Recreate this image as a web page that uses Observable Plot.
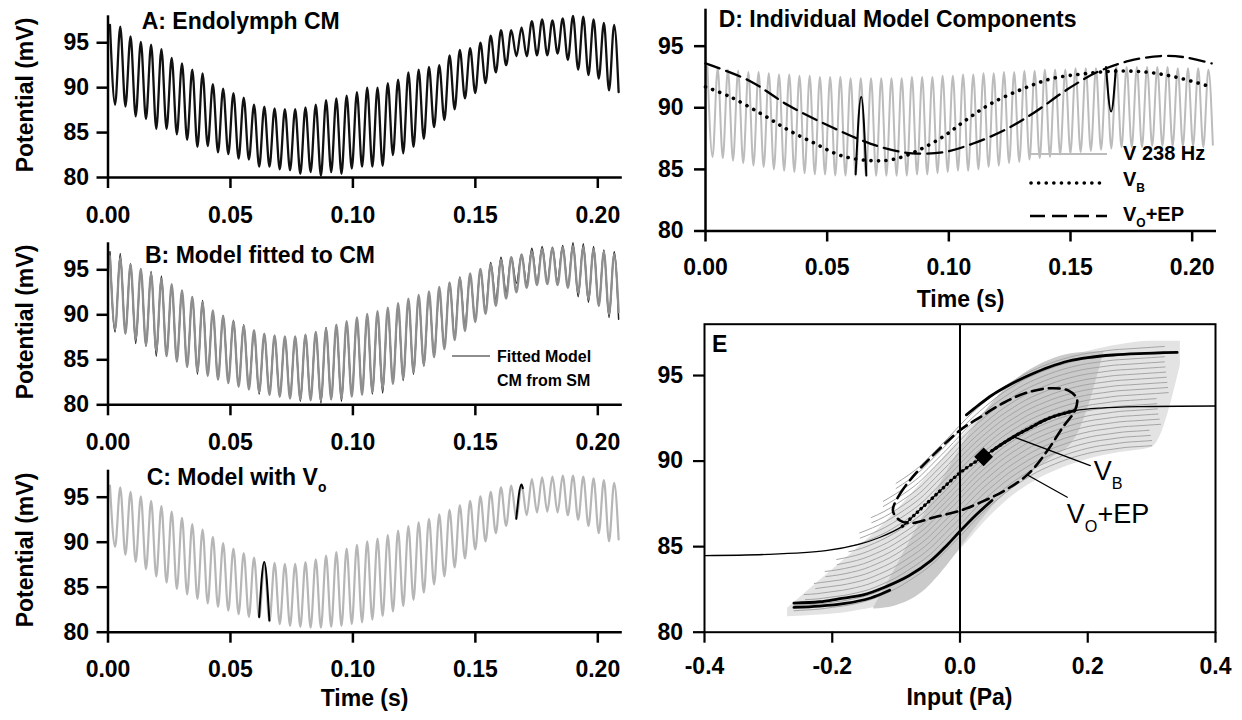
<!DOCTYPE html>
<html><head><meta charset="utf-8">
<script src="https://cdn.jsdelivr.net/npm/d3@7"></script>
<script src="https://cdn.jsdelivr.net/npm/@observablehq/plot@0.6"></script>
<style>
body{margin:0;background:#fff;}
#fig{position:relative;width:1242px;height:720px;overflow:hidden;background:#fff;}
#fig svg{position:absolute;}
</style></head><body><div id="fig"></div><script>
// ---------- ticks ----------
const timeTicks = [0, 0.05, 0.10, 0.15, 0.20];
const potentialTicks = [80, 85, 90, 95];
const inputTicks = [-0.4, -0.2, 0, 0.2, 0.4];
const toneHz = 238;
const firstPeakTime = 0.0008;

// ---------- A: Endolymph CM (peak / trough per cycle) ----------
const cmPeaks = [97.0,96.8,95.7,95.1,94.8,94.3,93.3,92.7,92.0,91.6,90.4,89.9,89.4,88.9,88.1,87.9,87.7,87.6,87.6,87.8,88.1,88.6,88.8,89.1,89.5,90.0,90.0,90.5,90.9,91.7,92.0,92.3,92.5,93.6,94.2,94.4,95.0,95.8,96.4,96.4,96.7,97.4,97.6,97.5,97.7,98.0,97.9,97.6,97.2,97.0];
const cmTroughs = [88.1,87.9,86.8,86.5,85.4,85.4,84.8,84.2,83.4,83.5,82.8,82.6,82.1,82.0,81.2,81.2,80.9,80.8,80.4,80.6,80.2,80.6,80.4,81.0,81.2,81.2,81.3,82.5,82.7,83.4,84.3,85.6,86.4,87.6,88.8,89.4,90.5,91.7,92.5,93.5,93.5,93.6,93.6,93.8,93.1,92.0,91.4,91.0,89.7];
const cmEnd = [0.2085, 89.5];

// ---------- B: fitted model ----------
const fitPeaks = [96.5,96.3,95.6,95.1,94.6,94.0,93.4,92.7,92.0,91.4,90.5,89.9,89.3,88.8,88.3,87.9,87.7,87.6,87.6,87.8,88.1,88.5,88.9,89.3,89.7,90.1,90.4,90.8,91.3,91.8,92.2,92.6,93.1,93.6,94.1,94.6,95.1,95.6,96.1,96.4,96.7,97.0,97.3,97.4,97.5,97.6,97.5,97.3,97.0,96.7];
const fitTroughs = [88.4,87.9,87.3,86.6,86.0,85.4,84.8,84.2,83.7,83.2,82.8,82.4,82.0,81.7,81.4,81.1,80.9,80.7,80.6,80.5,80.5,80.6,80.7,80.9,81.1,81.4,81.8,82.3,82.9,83.6,84.4,85.3,86.2,87.2,88.2,89.2,90.1,91.0,91.8,92.5,93.0,93.3,93.4,93.3,93.0,92.5,91.8,91.0,90.1];
const fitEnd = [0.2085, 90.3];

// ---------- C: model with Vo ----------
const voPeaks = [96.3,96.1,95.6,95.1,94.6,94.0,93.4,92.7,92.0,91.4,90.6,89.9,89.3,88.8,88.3,87.8,87.7,87.6,87.6,87.8,88.1,88.5,88.9,89.3,89.7,90.1,90.4,90.8,91.3,91.8,92.2,92.6,93.1,93.6,94.1,94.6,95.1,95.6,96.1,96.3,96.4,97.0,97.2,97.3,97.4,97.4,97.3,97.1,96.9,96.6];
const voTroughs = [89.5,88.6,87.8,87.0,86.2,85.5,84.8,84.2,83.7,83.2,82.8,82.4,82.0,81.7,81.6,81.2,80.9,80.7,80.6,80.5,80.5,80.6,80.7,80.9,81.1,81.4,81.8,82.3,82.9,83.6,84.4,85.3,86.2,87.2,88.2,89.2,90.1,91.0,91.8,92.6,93.0,93.3,93.4,93.3,93.0,92.5,91.8,91.0,90.1];
const voEnd = [0.2085, 90.3];
const cSpike1T = [0.0617, 0.0638, 0.0659], cSpike1V = [81.7, 87.8, 81.3];
const cSpike2T = [0.1667, 0.1688, 0.1694], cSpike2V = [92.6, 96.4, 96.0];

// ---------- D: individual components ----------
const tonePeaks = [93.3,93.2,93.1,93.0,92.9,92.9,92.8,92.7,92.7,92.6,92.6,92.5,92.5,92.5,92.4,92.4,92.4,92.4,92.4,92.4,92.5,92.5,92.5,92.6,92.6,92.7,92.7,92.8,92.8,92.9,92.9,93.0,93.0,93.1,93.1,93.1,93.2,93.2,93.2,93.2,93.3,93.3,93.3,93.3,93.3,93.3,93.2,93.2,93.2,93.1];
const toneTroughs = [86.0,85.9,85.7,85.5,85.3,85.2,85.0,84.9,84.8,84.7,84.6,84.6,84.5,84.5,84.5,84.5,84.5,84.5,84.5,84.5,84.6,84.6,84.7,84.8,84.9,84.9,85.0,85.2,85.3,85.5,85.6,85.8,85.9,86.0,86.2,86.3,86.4,86.5,86.6,86.7,86.8,86.8,86.8,86.9,86.9,86.9,86.9,86.9,86.8];
const toneEnd = [0.2085, 87.0];
const vbTime = [0,0.01,0.023,0.034,0.045,0.056,0.069,0.078,0.088,0.098,0.107,0.117,0.130,0.142,0.155,0.168,0.181,0.193,0.206];
const vbValue = [91.7,90.9,89.5,88.2,87.1,86.1,85.7,85.85,86.6,87.7,89.0,90.3,91.5,92.35,92.75,92.97,92.9,92.5,91.8];
const voepTime = [0,0.018,0.034,0.05,0.0643,0.074,0.085,0.098,0.110,0.123,0.135,0.148,0.161,0.174,0.187,0.197,0.208];
const voepValue = [93.6,92.2,90.2,88.6,87.35,86.7,86.3,86.4,87.1,88.2,89.6,91.4,92.9,93.8,94.2,94.1,93.6];
const dSpike1T = [0.0617, 0.0640, 0.0661], dSpike1V = [84.6, 90.9, 84.5];
const dSpike2T = [0.1646, 0.1667, 0.1686], dSpike2V = [93.3, 89.7, 93.1];

// ---------- E: input vs potential ----------
const thinP = [-0.4,-0.3,-0.21,-0.16,-0.125,-0.09,-0.07,-0.05,-0.03,-0.01,0.01,0.03,0.05,0.07,0.09,0.11,0.13,0.15,0.18,0.22,0.28,0.4];
const thinV = [84.48,84.55,84.77,85.12,85.55,86.2,86.9,87.6,88.3,89.0,89.6,90.1,90.6,91.1,91.55,91.95,92.35,92.65,92.95,93.1,93.18,93.22];
const vbInP = [-0.09,-0.07,-0.05,-0.03,-0.01,0.01,0.03,0.05,0.07,0.09,0.11,0.13,0.15,0.18];
const vbInV = [86.2,86.9,87.6,88.3,89.0,89.6,90.1,90.6,91.1,91.55,91.95,92.35,92.65,92.95];
const grayBaseP = [-0.26,-0.24,-0.22,-0.20,-0.18,-0.16,-0.14,-0.12,-0.10,-0.08,-0.06,-0.04,-0.02,0,0.02,0.04,0.06,0.08,0.10,0.12,0.14,0.16,0.18,0.20,0.22,0.24,0.26,0.28,0.30,0.32,0.34];
const grayBaseV = [81.35,81.4,81.45,81.55,81.65,81.8,82.0,82.3,82.65,83.1,83.6,84.2,84.95,85.7,86.5,87.25,87.9,88.5,89.0,89.45,89.8,90.1,90.35,90.55,90.7,90.8,90.9,90.95,91.0,91.05,91.1];
const grayOffset = [-0.1,0.2,0.5,0.8,1.1,1.4,1.7,2.0,2.3,2.6,2.9,3.2,3.5,3.8,4.1,4.4,4.7,5.0,5.3,5.6];
const grayShift = [0,0,-0.002,-0.004,-0.006,-0.008,-0.01,-0.011,-0.012,-0.013,-0.014,-0.015,-0.016,-0.017,-0.018,-0.019,-0.02,-0.02,-0.02,-0.02];
const grayStart = [-0.26,-0.26,-0.24,-0.24,-0.22,-0.22,-0.2,-0.2,-0.18,-0.18,-0.16,-0.16,-0.14,-0.14,-0.12,-0.12,-0.1,-0.1,-0.08,-0.08];
const grayEnd = [0.3,0.3,0.3,0.3,0.32,0.32,0.32,0.32,0.32,0.32,0.34,0.34,0.34,0.34,0.34,0.34,0.34,0.34,0.34,0.34];
// light gray region covered by the stack of loops
const haloP = [-0.27,-0.22,-0.17,-0.12,-0.08,-0.04,0,0.04,0.08,0.12,0.16,0.2,0.25,0.3,0.345];
const haloLow = [80.9,81.0,81.2,81.6,82.3,83.3,84.8,86.5,87.9,88.9,89.6,90.1,90.5,90.8,95.6];
const haloHigh = [81.4,83.0,84.6,86.3,87.9,89.6,91.3,92.9,94.2,95.2,95.9,96.4,96.8,97.0,97.0];
// darker diagonal where the loops are steep
const darkP = [-0.135,-0.1,-0.06,-0.02,0.02,0.06,0.1,0.14,0.18,0.225];
const darkLow = [81.35,81.55,82.3,83.9,85.9,87.7,89.0,90.1,91.3,96.3];
const darkHigh = [81.45,83.8,86.6,89.4,91.9,93.8,95.1,95.9,96.3,96.4];
const upperP = [0.01,0.03,0.05,0.07,0.09,0.11,0.14,0.17,0.2,0.24,0.28,0.34];
const upperV = [92.7,93.3,93.85,94.3,94.7,95.05,95.5,95.85,96.05,96.2,96.28,96.35];
const lowerP = [-0.26,-0.22,-0.19,-0.15,-0.12,-0.08,-0.045,-0.02,0,0.025,0.05];
const lowerV = [81.7,81.78,81.95,82.2,82.6,83.3,84.2,85.1,85.9,86.85,87.7];
const lowerBackP = [-0.26,-0.22,-0.18,-0.14,-0.11];
const lowerBackV = [81.45,81.52,81.68,82.0,82.45];
const epP = [-0.105,-0.094,-0.07,-0.04,0,0.033,0.07,0.107,0.143,0.17,0.183,0.18,0.161,0.137,0.107,0.07,0.033,0,-0.04,-0.076,-0.094];
const epV = [87.11,88.08,89.25,90.42,91.8,92.6,93.44,94.03,94.26,94.12,93.64,92.96,91.98,90.62,89.25,88.28,87.6,87.1,86.72,86.37,86.53];
const operatingPoint = [0.037, 90.25];
const vbLeader = [[0.085, 91.4], [0.204, 89.74]];
const epLeader = [[0.107, 89.16], [0.168, 87.89]];

// ---------- helpers ----------
const FONT = '"Liberation Sans", Arial, Helvetica, sans-serif';
const fig = document.getElementById("fig");
const pts = (xs, ys) => xs.map((x, i) => ({x, y: ys[i]}));
function osc(peaks, troughs, end) {
  const per = 1 / toneHz, out = [];
  peaks.forEach((v, k) => {
    out.push({x: firstPeakTime + k * per, y: v});
    if (k < troughs.length) out.push({x: firstPeakTime + (k + 0.5) * per, y: troughs[k]});
  });
  if (end) out.push({x: end[0], y: end[1]});
  return out;
}
function place(svg, left, top) { svg.style.left = left + "px"; svg.style.top = top + "px"; fig.appendChild(svg); return svg; }
const txtOpts = {fontSize: 23, fontWeight: "bold"};
function timeAxes(pad, ypad) {
  return [
    Plot.ruleY([80], {x1: 0, x2: 0.21, strokeWidth: 2.5}),
    Plot.ruleX([0], {y1: 80, y2: 98, strokeWidth: 2.5}),
    Plot.axisX({ticks: timeTicks, tickSize: 11, tickPadding: pad, tickFormat: d => d.toFixed(2), strokeWidth: 2.5, label: null, ...txtOpts}),
    Plot.axisY({ticks: potentialTicks, tickSize: 11, tickPadding: ypad, strokeWidth: 2.5, label: null, ...txtOpts})
  ];
}
const baseStyle = {fontFamily: FONT, background: "none", overflow: "visible", color: "#000"};

// ---------- Panel A ----------
const plotA = Plot.plot({
  width: 640, height: 230, marginLeft: 107.5, marginRight: 18.2, marginTop: 15.3, marginBottom: 53,
  x: {domain: [0, 0.21], label: null}, y: {domain: [80, 98], label: null}, style: baseStyle,
  marks: [
    Plot.line(osc(cmPeaks, cmTroughs, cmEnd), {x: "x", y: "y", stroke: "#111", strokeWidth: 2.3, curve: "monotone-x"}),
    ...timeAxes(18, 8)
  ]
});
place(plotA, 0, 0);

// ---------- Panel B ----------
const plotB = Plot.plot({
  width: 640, height: 230, marginLeft: 107.5, marginRight: 18.2, marginTop: 14.3, marginBottom: 53.7,
  x: {domain: [0, 0.21], label: null}, y: {domain: [80, 98], label: null}, style: baseStyle,
  marks: [
    Plot.line(osc(cmPeaks, cmTroughs, cmEnd), {x: "x", y: "y", stroke: "#222", strokeWidth: 1.5, curve: "monotone-x"}),
    Plot.line(osc(fitPeaks, fitTroughs, fitEnd), {x: "x", y: "y", stroke: "#8e8e8e", strokeWidth: 2.3, curve: "monotone-x"}),
    ...timeAxes(18, 8)
  ]
});
place(plotB, 0, 228);

// ---------- Panel C ----------
const plotC = Plot.plot({
  width: 640, height: 265, marginLeft: 107.5, marginRight: 18.2, marginTop: 14.7, marginBottom: 88.3,
  x: {domain: [0, 0.21], label: null}, y: {domain: [80, 98], label: null}, style: baseStyle,
  marks: [
    Plot.line(osc(voPeaks, voTroughs, voEnd), {x: "x", y: "y", stroke: "#b6b6b6", strokeWidth: 2.2, curve: "monotone-x"}),
    Plot.line(pts(cSpike1T, cSpike1V), {x: "x", y: "y", stroke: "#000", strokeWidth: 2, curve: "monotone-x"}),
    Plot.line(pts(cSpike2T, cSpike2V), {x: "x", y: "y", stroke: "#000", strokeWidth: 2, curve: "monotone-x"}),
    ...timeAxes(17, 8)
  ]
});
place(plotC, 0, 455);

// ---------- Panel D ----------
const plotD = Plot.plot({
  width: 602, height: 320, marginLeft: 65, marginRight: 26, marginTop: 8.7, marginBottom: 89.5,
  x: {domain: [0, 0.21], label: null}, y: {domain: [80, 98], label: null}, style: baseStyle,
  marks: [
    Plot.line(osc(tonePeaks, toneTroughs, toneEnd), {x: "x", y: "y", stroke: "#bcbcbc", strokeWidth: 2, curve: "monotone-x"}),
    Plot.line(pts(vbTime, vbValue), {x: "x", y: "y", stroke: "#000", strokeWidth: 3.6, strokeDasharray: "0.1 7.5", strokeLinecap: "round", curve: "catmull-rom"}),
    Plot.line(pts(voepTime, voepValue), {x: "x", y: "y", stroke: "#000", strokeWidth: 2.3, strokeDasharray: "15 7", curve: "catmull-rom"}),
    Plot.line(pts(dSpike1T, dSpike1V), {x: "x", y: "y", stroke: "#000", strokeWidth: 2, curve: "monotone-x"}),
    Plot.line(pts(dSpike2T, dSpike2V), {x: "x", y: "y", stroke: "#000", strokeWidth: 2, curve: "monotone-x"}),
    ...timeAxes(16.5, 11)
  ]
});
place(plotD, 640, 0);

// ---------- Panel E ----------
const grayData = [];
grayOffset.forEach((o, i) => {
  grayBaseP.forEach((p, j) => {
    if (p >= grayStart[i] - 1e-9 && p <= grayEnd[i] + 1e-9) grayData.push({line: i, x: p + grayShift[i], y: grayBaseV[j] + o});
  });
});
const haloData = haloP.map((p, i) => ({x: p, lo: haloLow[i], hi: haloHigh[i]}));
const darkData = darkP.map((p, i) => ({x: p, lo: darkLow[i], hi: darkHigh[i]}));
const lowerData = [...pts(lowerP, lowerV).map(d => ({...d, z: "out"})), ...pts(lowerBackP, lowerBackV).map(d => ({...d, z: "back"}))];
const vbInData = pts(vbInP, vbInV);
const plotE = Plot.plot({
  width: 602, height: 400, marginLeft: 64, marginRight: 27, marginTop: 3.7, marginBottom: 88.3,
  x: {domain: [-0.4, 0.4], label: null}, y: {domain: [80, 98], label: null}, style: baseStyle,
  marks: [
    Plot.areaY(haloData, {x: "x", y1: "lo", y2: "hi", fill: "#e3e3e3", curve: "monotone-x"}),
    Plot.areaY(darkData, {x: "x", y1: "lo", y2: "hi", fill: "#cacaca", curve: "monotone-x"}),
    Plot.line(grayData, {x: "x", y: "y", z: "line", stroke: "#a5a5a5", strokeWidth: 1, curve: "natural"}),
    Plot.line(pts(thinP, thinV), {x: "x", y: "y", stroke: "#000", strokeWidth: 1.3, curve: "catmull-rom"}),
    Plot.line(lowerData, {x: "x", y: "y", z: "z", stroke: "#000", strokeWidth: 2.8, curve: "catmull-rom"}),
    Plot.line(pts(upperP, upperV), {x: "x", y: "y", stroke: "#000", strokeWidth: 2.8, curve: "catmull-rom"}),
    Plot.line(vbInData, {x: "x", y: "y", stroke: "#000", strokeWidth: 3.4, strokeDasharray: "0.1 5", strokeLinecap: "round", curve: "catmull-rom"}),
    Plot.line(vbInData.filter(d => d.x >= 0.05), {x: "x", y: "y", stroke: "#000", strokeWidth: 2.8, curve: "catmull-rom"}),
    Plot.line(pts(epP, epV), {x: "x", y: "y", stroke: "#000", strokeWidth: 2.6, strokeDasharray: "11 6", curve: "catmull-rom-closed"}),
    Plot.dot([{x: operatingPoint[0], y: operatingPoint[1]}], {x: "x", y: "y", symbol: "square", r: 7.5, rotate: 45, fill: "#000"}),
    Plot.line(vbLeader.map(([x, y]) => ({x, y})), {x: "x", y: "y", stroke: "#000", strokeWidth: 1.3}),
    Plot.line(epLeader.map(([x, y]) => ({x, y})), {x: "x", y: "y", stroke: "#000", strokeWidth: 1.3}),
    Plot.ruleX([0], {strokeWidth: 2}),
    Plot.frame({strokeWidth: 2}),
    Plot.axisX({ticks: inputTicks, tickSize: 11, tickPadding: 14, tickFormat: d => d.toFixed(1), strokeWidth: 2.2, label: null, ...txtOpts}),
    Plot.axisY({ticks: potentialTicks, tickSize: 11, tickPadding: 10.5, strokeWidth: 2.2, label: null, ...txtOpts})
  ]
});
place(plotE, 640, 320);

// ---------- text overlay ----------
const ov = d3.create("svg").attr("width", 1242).attr("height", 720)
  .style("left", "0px").style("top", "0px").style("font-family", FONT).style("pointer-events", "none");
fig.appendChild(ov.node());
function label(x, y, parts, size = 23, opts = {}) {
  const t = ov.append("text").attr("x", x).attr("y", y).attr("font-size", size)
    .attr("font-weight", opts.weight || "bold").attr("text-anchor", opts.anchor || "start").attr("fill", "#000");
  if (opts.rotate) t.attr("transform", `rotate(-90 ${x} ${y})`);
  let shifted = 0;
  parts.forEach(p => {
    const s = t.append("tspan").text(typeof p === "string" ? p : p.sub);
    if (typeof p === "string") { if (shifted) { s.attr("dy", -shifted); shifted = 0; } }
    else { const d = size * 0.32; s.attr("font-size", size * 0.6).attr("dy", d); shifted = d; }
  });
  return t;
}
label(141.7, 28.5, ["A: Endolymph CM"]);
label(145, 263.3, ["B: Model fitted to CM"]);
label(146.7, 485, ["C: Model with V", {sub: "o"}]);
label(718.7, 26.7, ["D: Individual Model Components"]);
label(712, 352, ["E"]);
label(33, 95, ["Potential (mV)"], 23, {anchor: "middle", rotate: true});
label(33, 322, ["Potential (mV)"], 23, {anchor: "middle", rotate: true});
label(33, 550, ["Potential (mV)"], 23, {anchor: "middle", rotate: true});
label(364.6, 706, ["Time (s)"], 23, {anchor: "middle"});
label(960.6, 307, ["Time (s)"], 23, {anchor: "middle"});
label(959.5, 705, ["Input (Pa)"], 23, {anchor: "middle"});

// B legend
ov.append("line").attr("x1", 452).attr("x2", 490).attr("y1", 356).attr("y2", 356).attr("stroke", "#8e8e8e").attr("stroke-width", 2);
label(497, 362, ["Fitted Model"], 16);
label(497, 386, ["CM from SM"], 16);

// D legend
ov.append("line").attr("x1", 1030).attr("x2", 1107).attr("y1", 154).attr("y2", 154).attr("stroke", "#bcbcbc").attr("stroke-width", 2);
ov.append("line").attr("x1", 1031).attr("x2", 1107).attr("y1", 183).attr("y2", 183).attr("stroke", "#000").attr("stroke-width", 3.6).attr("stroke-dasharray", "0.1 7.5").attr("stroke-linecap", "round");
ov.append("line").attr("x1", 1030).attr("x2", 1107).attr("y1", 216).attr("y2", 216).attr("stroke", "#000").attr("stroke-width", 2.3).attr("stroke-dasharray", "15 7");
label(1123, 160, ["V 238 Hz"], 20);
label(1123, 186, ["V", {sub: "B"}], 20);
label(1123, 221, ["V", {sub: "O"}, "+EP"], 20);

// E labels (placed with the panel's own scales)
const ex = plotE.scale("x"), ey = plotE.scale("y");
label(640 + ex.apply(0.21), 320 + ey.apply(88.86), ["V", {sub: "B"}], 27, {weight: "normal"});
label(640 + ex.apply(0.168), 320 + ey.apply(86.33), ["V", {sub: "O"}, "+EP"], 27, {weight: "normal"});
</script></body></html>
